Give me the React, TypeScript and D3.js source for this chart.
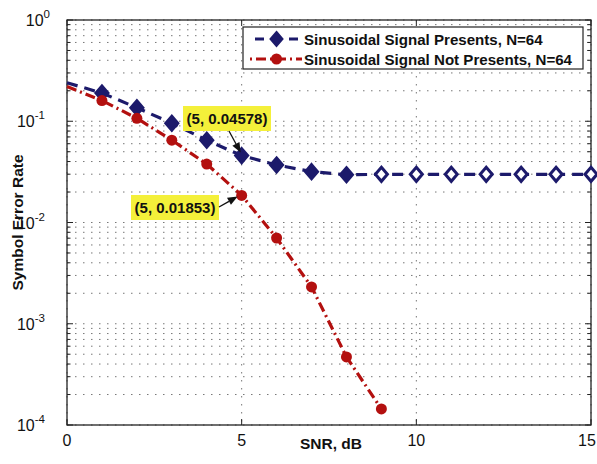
import React from "react";
import * as d3 from "d3";

const snr = [0, 1, 2, 3, 4, 5, 6, 7, 8, 9, 10, 11, 12, 13, 14, 15];
const serPresent = [0.24, 0.19, 0.136, 0.0955, 0.065, 0.04578, 0.037, 0.0318, 0.0296, 0.0299, 0.0299, 0.0299, 0.0299, 0.0299, 0.0299, 0.0299];
const snrNot = [0, 1, 2, 3, 4, 5, 6, 7, 8, 9];
const serNot = [0.22, 0.16, 0.107, 0.065, 0.0378, 0.01853, 0.00703, 0.00231, 0.00047, 0.000144];
const xTicks = [0, 5, 10, 15];
const yExps = [0, -1, -2, -3, -4];
const legendLabels = ["Sinusoidal Signal Presents, N=64", "Sinusoidal Signal Not Presents, N=64"];
const annotations = [
  { x: 5, y: 0.04578, text: "(5, 0.04578)" },
  { x: 5, y: 0.01853, text: "(5, 0.01853)" },
];

const W = 597, H = 464;
const L = 67, R = 591, T = 20, B = 425;
const BLUE = "#1c1a6b";
const RED = "#b3100f";
const FONT = "'Liberation Sans', Arial, Helvetica, sans-serif";

export default function App() {
  const x = d3.scaleLinear().domain([0, 15]).range([L, R]);
  const y = d3.scaleLog().domain([1e-4, 1]).range([B, T]);

  const minor: number[] = [];
  for (let e = -4; e < 0; e++) for (let k = 1; k <= 9; k++) minor.push(k * Math.pow(10, e));
  minor.push(1);

  const line = d3.line<[number, number]>().x((d) => x(d[0])).y((d) => y(d[1]));
  const bluePts: [number, number][] = snr.map((s, i) => [s, serPresent[i]]);
  const redPts: [number, number][] = snrNot.map((s, i) => [s, serNot[i]]);

  const diamond = (cx: number, cy: number) =>
    `M${cx},${cy - 7} L${cx + 6},${cy} L${cx},${cy + 7} L${cx - 6},${cy} Z`;

  const a0 = annotations[0], a1 = annotations[1];
  const p0 = [x(a0.x), y(a0.y)];
  const p1 = [x(a1.x), y(a1.y)];

  const arrow = (x1: number, y1: number, x2: number, y2: number) => {
    const ang = Math.atan2(y2 - y1, x2 - x1);
    const len = 10, w = 4;
    const bx = x2 - len * Math.cos(ang), by = y2 - len * Math.sin(ang);
    const px = -Math.sin(ang) * w, py = Math.cos(ang) * w;
    return (
      <g>
        <line x1={x1} y1={y1} x2={bx} y2={by} stroke="#111" strokeWidth={1.3} />
        <path d={`M${x2},${y2} L${bx + px},${by + py} L${bx - px},${by - py} Z`} fill="#111" />
      </g>
    );
  };

  return (
    <svg width={W} height={H} style={{ position: "absolute", left: 0, top: 0, background: "#fff" }} fontFamily={FONT}>
      <rect x={0} y={0} width={W} height={H} fill="#fff" />
      {/* horizontal grid */}
      {minor.map((v, i) => (
        <line key={"hg" + i} x1={L} x2={R} y1={y(v)} y2={y(v)} stroke="#777" strokeWidth={1} strokeDasharray="1.5,6.5" />
      ))}
      {xTicks.map((t) => (
        <line key={"vg" + t} x1={x(t)} x2={x(t)} y1={T} y2={B} stroke="#777" strokeWidth={1} strokeDasharray="1.5,6.5" />
      ))}
      {/* ticks */}
      {minor.map((v, i) => {
        const major = Math.abs(Math.log10(v) - Math.round(Math.log10(v))) < 1e-9;
        const len = major ? 6 : 3.5;
        return (
          <g key={"yt" + i}>
            <line x1={L} x2={L + len} y1={y(v)} y2={y(v)} stroke="#222" />
            <line x1={R} x2={R - len} y1={y(v)} y2={y(v)} stroke="#222" />
          </g>
        );
      })}
      {xTicks.map((t) => (
        <g key={"xt" + t}>
          <line x1={x(t)} x2={x(t)} y1={B} y2={B - 6} stroke="#222" />
          <line x1={x(t)} x2={x(t)} y1={T} y2={T + 6} stroke="#222" />
        </g>
      ))}
      <rect x={L} y={T} width={R - L} height={B - T} fill="none" stroke="#222" strokeWidth={1.3} />
      {/* tick labels */}
      {xTicks.map((t) => (
        <text key={"xl" + t} x={t === 15 ? x(t) - 4 : x(t)} y={446} textAnchor="middle" fontSize={16} fill="#111">{t}</text>
      ))}
      {yExps.map((e) => (
        <text key={"yl" + e} x={e < 0 ? 45 : 50} y={y(Math.pow(10, e)) + 6} textAnchor="end" fontSize={16} fill="#111">
          10
          <tspan dy={-8} fontSize={11.5}>{e}</tspan>
        </text>
      ))}
      {/* series */}
      <path d={line(bluePts) || ""} fill="none" stroke={BLUE} strokeWidth={3.2} strokeDasharray="11,7" />
      <path d={line(redPts) || ""} fill="none" stroke={RED} strokeWidth={3.2} strokeDasharray="10,4,2,4" />
      {bluePts.slice(1).map((p, i) => (
        <path key={"bm" + i} d={diamond(x(p[0]), y(p[1]))} fill={i >= 8 ? "#fff" : BLUE} stroke={BLUE} strokeWidth={3} />
      ))}
      {redPts.slice(1).map((p, i) => (
        <circle key={"rm" + i} cx={x(p[0])} cy={y(p[1])} r={5.5} fill={RED} />
      ))}
      {/* annotations */}
      <rect x={183} y={106} width={88} height={25} fill="#f4f03a" />
      <text x={227} y={124} textAnchor="middle" fontSize={15} fontWeight="bold" fill="#111">{a0.text}</text>
      {arrow(229, 131, p0[0] - 1, p0[1] - 3)}
      <rect x={131} y={195} width={88} height={25} fill="#f4f03a" />
      <text x={175} y={213} textAnchor="middle" fontSize={15} fontWeight="bold" fill="#111">{a1.text}</text>
      {arrow(219, 207, p1[0] - 4, p1[1] + 1)}
      {/* legend */}
      <rect x={243} y={27} width={340} height={42} fill="#fff" stroke="#222" strokeWidth={1.2} />
      <line x1={255} x2={298} y1={39} y2={39} stroke={BLUE} strokeWidth={3.2} strokeDasharray="9,8" />
      <path d={diamond(276.5, 39)} fill={BLUE} stroke={BLUE} strokeWidth={2} />
      <line x1={250} x2={302} y1={59} y2={59} stroke={RED} strokeWidth={3.2} strokeDasharray="2,4,10,4" />
      <circle cx={276.5} cy={59} r={5.5} fill={RED} />
      {legendLabels.map((s, i) => (
        <text key={"lg" + i} x={304} y={44.5 + i * 20} fontSize={15.1} fontWeight="bold" fill="#111">{s}</text>
      ))}
      {/* axis labels */}
      <text x={331} y={449} textAnchor="middle" fontSize={15.5} fontWeight="bold" fill="#111">SNR, dB</text>
      <text transform={`translate(23,${(T + B) / 2}) rotate(-90)`} textAnchor="middle" fontSize={15.5} fontWeight="bold" fill="#111">Symbol Error Rate</text>
    </svg>
  );
}
